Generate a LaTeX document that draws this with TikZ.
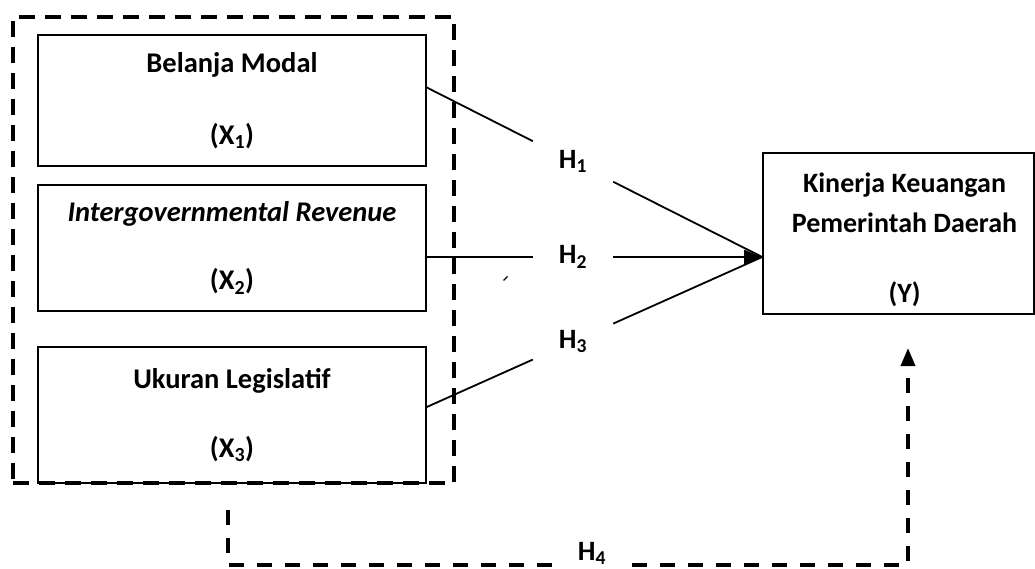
\documentclass[tikz,border=0pt]{standalone}
\usepackage{fontspec}
\setmainfont{Carlito}
\usetikzlibrary{arrows.meta,calc}
\begin{document}
\begin{tikzpicture}[x=1pt,y=-1pt,
  box/.style={draw,line width=1.6pt,minimum width=388pt,inner sep=0pt,align=center,font=\fontsize{28.5}{36}\selectfont\bfseries},
  grpbox/.style={draw,line width=3.5pt,dash pattern=on 16pt off 10pt,minimum width=441pt,minimum height=466pt,inner sep=0pt},
  dsh/.style={line width=3.5pt,dash pattern=on 15pt off 13pt},
  hyp/.style={inner sep=0pt,minimum width=80pt,minimum height=44pt,font=\fontsize{28}{30}\selectfont\bfseries},
  link/.style={line width=1.8pt},
  tip/.style={-{Triangle[length=18pt,width=14pt]}}]
\useasboundingbox (0,0) rectangle (1035,569);

% variable boxes
\node[box,minimum height=131pt] (b1) at (232,100.5) {Belanja Modal\\[36pt](X\textsubscript{1})};
\node[box,minimum height=126pt] (b2) at (232,248) {\textit{Intergovernmental Revenue}\\[32pt](X\textsubscript{2})};
\node[box,minimum height=136pt] (b3) at (232,415) {Ukuran Legislatif\\[33pt](X\textsubscript{3})};

% dependent variable
\node[box,minimum width=271pt,minimum height=161pt] (y) at (898.5,233.5) {};
\node[align=center,inner sep=0pt,font=\fontsize{28}{40}\selectfont\bfseries] (ylab) at ([xshift=6pt,yshift=-6pt]y.center) {Kinerja Keuangan\\Pemerintah Daerah\\[30pt](Y)};

% group box
\node[grpbox] (grp) at (233.5,250) {};

% hypothesis labels
\node[hyp] (h1) at (573,161.5) {H\textsubscript{1}};
\node[hyp] (h2) at (573,257) {H\textsubscript{2}};
\node[hyp] (h3) at (573,341.6) {H\textsubscript{3}};
\node[hyp] (h4) at (592,553) {H\textsubscript{4}};

% connection points
\coordinate (yin) at ([yshift=-23.5pt]y.west);
\coordinate (o1) at ([yshift=13pt]b1.east);
\coordinate (o2) at ([yshift=-9pt]b2.east);
\coordinate (o3) at ([yshift=8pt]b3.east);

\draw[link] (o1) -- (h1);
\draw[link] (h1) -- (yin);
\draw[link] (o2) -- (h2);
\draw[link,tip] (h2) -- (yin);
\draw[link] (o3) -- (h3);
\draw[link] (h3) -- (yin);

% simultaneous effect H4
\coordinate (s4) at ([xshift=-5.5pt,yshift=-25pt]grp.south);
\coordinate (c4) at ($(s4)+(0,55)$);
\coordinate (t4) at (908,348);
\coordinate (e4) at (t4 |- c4);
\draw[dsh] (s4) -- (c4) -- (c4 -| h4.west);
\draw[dsh,tip] (e4 -| h4.east) -- (e4) -- (t4);

% small stray stroke
\draw[line width=1.2pt] (503.5,280.5) -- (507.5,276.5);
\end{tikzpicture}
\end{document}
